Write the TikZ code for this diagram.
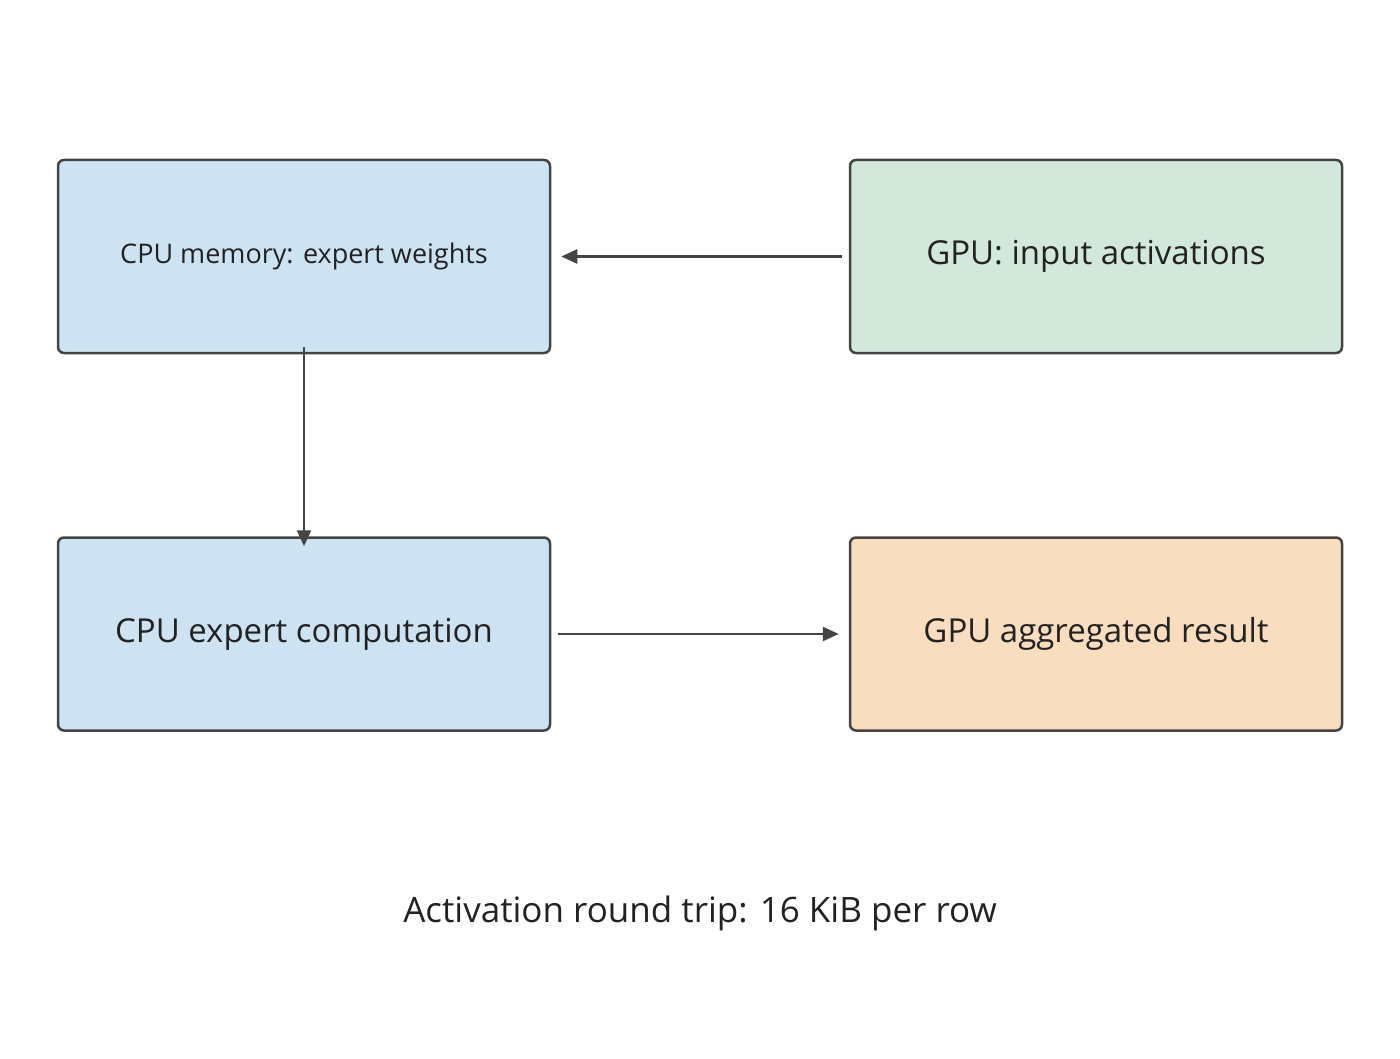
\documentclass[tikz,border=0pt]{standalone}
\usepackage{fontspec}
\setmainfont{Open Sans}
\usetikzlibrary{arrows.meta}
\definecolor{cblue}{HTML}{CDE3F2}
\definecolor{cgreen}{HTML}{D2E8DB}
\definecolor{corange}{HTML}{F8DDBE}
\definecolor{cline}{HTML}{444444}
\definecolor{ctext}{HTML}{222222}
\tikzset{
 box/.style={draw=cline,line width=2.5pt,rounded corners=6pt,minimum width=492pt,minimum height=193pt,text=ctext,inner sep=0pt},
 conn/.style={draw=cline,line width=2.5pt,-{Triangle[length=16pt,width=14pt]}}
}
\begin{document}
\begin{tikzpicture}[x=1pt,y=-1pt]
\useasboundingbox (0,0) rectangle (1400,1059);
\node[box,fill=cblue] (mem) at (304,256.5) {\fontsize{27}{32}\selectfont CPU memory: expert weights};
\node[box,fill=cgreen] (in) at (1096,256.5) {\fontsize{33}{40}\selectfont GPU: input activations};
\node[box,fill=cblue] (comp) at (304,634) {\fontsize{33}{40}\selectfont CPU expert computation};
\node[box,fill=corange] (res) at (1096,634) {\fontsize{33}{40}\selectfont GPU aggregated result};
\node[text=ctext] (cap) at (700,913) {\fontsize{35}{42}\selectfont Activation round trip: 16 KiB per row};
\draw[conn] ([xshift=-7pt]in.west) -- ([xshift=10pt]mem.east);
\draw[conn] ([yshift=7pt]mem.south) -- ([yshift=-10pt]comp.north);
\draw[conn] ([xshift=7pt]comp.east) -- ([xshift=-10pt]res.west);
\end{tikzpicture}
\end{document}
